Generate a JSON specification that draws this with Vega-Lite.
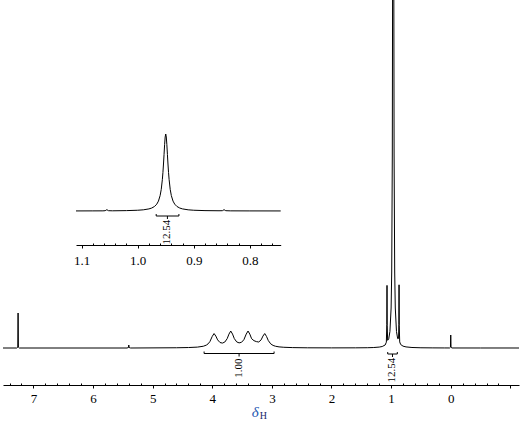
{
  "$schema": "https://vega.github.io/schema/vega-lite/v6.json",
  "width": 516,
  "height": 385,
  "autosize": "none",
  "padding": {"left": 3, "top": 0, "right": 6, "bottom": 39},
  "background": "white",
  "config": {
    "view": {"stroke": null},
    "axis": {
      "grid": false,
      "title": null,
      "domainColor": "black",
      "tickColor": "black",
      "labelColor": "black",
      "labelFont": "Times New Roman",
      "labelFontSize": 13,
      "domainWidth": 1,
      "tickWidth": 1,
      "labelFlush": false,
      "labelOverlap": false
    }
  },
  "datasets": {
    "main": [
      {"ppm": 7.51, "i": 0}, {"ppm": 7.28, "i": 0}, {"ppm": 7.262, "i": 0.8}, {"ppm": 7.257, "i": 35}, {"ppm": 7.252, "i": 0.8}, {"ppm": 7.235, "i": 0},
      {"ppm": 5.43, "i": 0}, {"ppm": 5.405, "i": 0.5}, {"ppm": 5.4, "i": 3}, {"ppm": 5.395, "i": 0.5}, {"ppm": 5.37, "i": 0},
      {"ppm": 4.6, "i": 0.25}, {"ppm": 4.4, "i": 0.46}, {"ppm": 4.25, "i": 0.88}, {"ppm": 4.15, "i": 1.76}, {"ppm": 4.1, "i": 2.87}, {"ppm": 4.07, "i": 4.14}, {"ppm": 4.04, "i": 6.36}, {"ppm": 4.0, "i": 11.6},
      {"ppm": 3.97, "i": 14.45}, {"ppm": 3.94, "i": 11.93}, {"ppm": 3.91, "i": 8.13}, {"ppm": 3.87, "i": 5.47}, {"ppm": 3.83, "i": 4.92}, {"ppm": 3.79, "i": 5.95}, {"ppm": 3.75, "i": 9.31}, {"ppm": 3.72, "i": 13.88},
      {"ppm": 3.69, "i": 16.98}, {"ppm": 3.66, "i": 13.93}, {"ppm": 3.63, "i": 9.38}, {"ppm": 3.59, "i": 6.08}, {"ppm": 3.55, "i": 5.11}, {"ppm": 3.51, "i": 5.68}, {"ppm": 3.47, "i": 8.27}, {"ppm": 3.43, "i": 13.93},
      {"ppm": 3.4, "i": 16.98}, {"ppm": 3.37, "i": 13.88}, {"ppm": 3.34, "i": 9.31}, {"ppm": 3.3, "i": 7.3}, {"ppm": 3.26, "i": 6.4}, {"ppm": 3.22, "i": 6.0}, {"ppm": 3.18, "i": 8.13}, {"ppm": 3.15, "i": 11.93},
      {"ppm": 3.12, "i": 14.45}, {"ppm": 3.09, "i": 11.6}, {"ppm": 3.06, "i": 7.43}, {"ppm": 3.02, "i": 4.14}, {"ppm": 2.98, "i": 2.58}, {"ppm": 2.94, "i": 1.76}, {"ppm": 2.88, "i": 1.12}, {"ppm": 2.8, "i": 0.72}, {"ppm": 2.65, "i": 0.4}, {"ppm": 2.4, "i": 0.2},
      {"ppm": 2.0, "i": 0.12}, {"ppm": 1.6, "i": 0.16}, {"ppm": 1.4, "i": 0.27}, {"ppm": 1.3, "i": 0.45}, {"ppm": 1.2, "i": 0.91}, {"ppm": 1.15, "i": 1.47}, {"ppm": 1.1, "i": 3.0}, {"ppm": 1.08, "i": 5.8},
      {"ppm": 1.072, "i": 23.4}, {"ppm": 1.069, "i": 62.6}, {"ppm": 1.066, "i": 22.7}, {"ppm": 1.058, "i": 7.7}, {"ppm": 1.04, "i": 9.2}, {"ppm": 1.02, "i": 16.5}, {"ppm": 1.0, "i": 40}, {"ppm": 0.99, "i": 76},
      {"ppm": 0.98, "i": 193}, {"ppm": 0.975, "i": 370}, {"ppm": 0.97, "i": 826}, {"ppm": 0.965, "i": 1400}, {"ppm": 0.96, "i": 826}, {"ppm": 0.955, "i": 370}, {"ppm": 0.95, "i": 193}, {"ppm": 0.94, "i": 76},
      {"ppm": 0.93, "i": 40}, {"ppm": 0.91, "i": 16.5}, {"ppm": 0.89, "i": 9.3}, {"ppm": 0.875, "i": 9.6}, {"ppm": 0.87, "i": 23.4}, {"ppm": 0.867, "i": 63.2}, {"ppm": 0.864, "i": 22.7}, {"ppm": 0.856, "i": 6.1},
      {"ppm": 0.84, "i": 3.5}, {"ppm": 0.8, "i": 1.85}, {"ppm": 0.75, "i": 1.09}, {"ppm": 0.65, "i": 0.51}, {"ppm": 0.5, "i": 0.23}, {"ppm": 0.3, "i": 0.11}, {"ppm": 0.1, "i": 0.05},
      {"ppm": 0.02, "i": 0.04}, {"ppm": 0.005, "i": 0.8}, {"ppm": 0.0, "i": 13}, {"ppm": -0.005, "i": 0.8}, {"ppm": -0.02, "i": 0.03}, {"ppm": -0.5, "i": 0.01}, {"ppm": -1.145, "i": 0}
    ],
    "inset": [
      {"ppm": 1.11, "i": 0.07}, {"ppm": 1.08, "i": 0.11}, {"ppm": 1.062, "i": 0.15}, {"ppm": 1.058, "i": 0.3}, {"ppm": 1.055, "i": 1.3}, {"ppm": 1.052, "i": 0.3}, {"ppm": 1.045, "i": 0.2},
      {"ppm": 1.02, "i": 0.39}, {"ppm": 1.0, "i": 0.76}, {"ppm": 0.99, "i": 1.18}, {"ppm": 0.98, "i": 2.08}, {"ppm": 0.975, "i": 2.96}, {"ppm": 0.97, "i": 4.53}, {"ppm": 0.966, "i": 6.85},
      {"ppm": 0.963, "i": 9.9}, {"ppm": 0.96, "i": 15.4}, {"ppm": 0.958, "i": 21.6}, {"ppm": 0.956, "i": 31.6}, {"ppm": 0.955, "i": 38.5}, {"ppm": 0.954, "i": 47}, {"ppm": 0.953, "i": 56.6},
      {"ppm": 0.952, "i": 66.4}, {"ppm": 0.951, "i": 74}, {"ppm": 0.95, "i": 77}, {"ppm": 0.949, "i": 74}, {"ppm": 0.948, "i": 66.4}, {"ppm": 0.947, "i": 56.6}, {"ppm": 0.946, "i": 47},
      {"ppm": 0.945, "i": 38.5}, {"ppm": 0.944, "i": 31.6}, {"ppm": 0.942, "i": 21.6}, {"ppm": 0.94, "i": 15.4}, {"ppm": 0.937, "i": 9.9}, {"ppm": 0.934, "i": 6.85}, {"ppm": 0.93, "i": 4.53},
      {"ppm": 0.925, "i": 2.96}, {"ppm": 0.92, "i": 2.08}, {"ppm": 0.91, "i": 1.18}, {"ppm": 0.9, "i": 0.76}, {"ppm": 0.88, "i": 0.39}, {"ppm": 0.855, "i": 0.25}, {"ppm": 0.849, "i": 0.3},
      {"ppm": 0.846, "i": 1.3}, {"ppm": 0.843, "i": 0.3}, {"ppm": 0.835, "i": 0.15}, {"ppm": 0.8, "i": 0.09}, {"ppm": 0.745, "i": 0.05}
    ],
    "brkMain": [
      {"ppm": 4.137, "ppm2": 2.963, "i": -5.5, "i2": -5.5},
      {"ppm": 4.137, "ppm2": 4.137, "i": -5.5, "i2": -3.5},
      {"ppm": 2.963, "ppm2": 2.963, "i": -5.5, "i2": -3.5},
      {"ppm": 3.55, "ppm2": 3.55, "i": -5.5, "i2": -8.5},
      {"ppm": 1.057, "ppm2": 0.896, "i": -6, "i2": -6},
      {"ppm": 1.057, "ppm2": 1.057, "i": -6, "i2": -4},
      {"ppm": 0.896, "ppm2": 0.896, "i": -6, "i2": -4},
      {"ppm": 0.977, "ppm2": 0.977, "i": -6, "i2": -9}
    ],
    "brkInset": [
      {"ppm": 0.967, "ppm2": 0.9265, "i": -5, "i2": -5},
      {"ppm": 0.967, "ppm2": 0.967, "i": -5, "i2": -3},
      {"ppm": 0.9265, "ppm2": 0.9265, "i": -5, "i2": -3},
      {"ppm": 0.947, "ppm2": 0.947, "i": -5, "i2": -8}
    ],
    "intMain": [
      {"ppm": 3.55, "i": -20, "txt": "1.00"},
      {"ppm": 0.977, "i": -22, "txt": "12.54"}
    ],
    "intInset": [
      {"ppm": 0.947, "i": -21, "txt": "12.54"}
    ],
    "titleDelta": [{"ppm": 3.28, "i": -69, "txt": "δ"}],
    "titleSub": [{"ppm": 3.145, "i": -71, "txt": "H"}],
    "mainEnds": [{"ppm": 7.5}, {"ppm": -1.1}],
    "insetEnds": [{"ppm": 1.1}, {"ppm": 0.75}]
  },
  "layer": [
    {
      "encoding": {
        "x": {
          "field": "ppm", "type": "quantitative",
          "scale": {"domain": [-1.145, 7.51], "reverse": true, "nice": false, "zero": false},
          "axis": {
            "orient": "bottom",
            "values": [7, 6, 5, 4, 3, 2, 1, 0, -1],
            "format": "d",
            "labelExpr": "datum.value < 0 ? '' : datum.label",
            "tickSize": 3,
            "labelPadding": 4
          }
        },
        "y": {
          "field": "i", "type": "quantitative",
          "scale": {"domain": [-37, 348], "nice": false, "zero": false},
          "axis": null
        }
      },
      "layer": [
        {
          "data": {"name": "main"},
          "mark": {"type": "line", "color": "black", "strokeWidth": 1, "clip": true, "interpolate": "linear"}
        },
        {
          "data": {"name": "brkMain"},
          "mark": {"type": "rule", "color": "black", "strokeWidth": 1},
          "encoding": {"x2": {"field": "ppm2"}, "y2": {"field": "i2"}}
        },
        {
          "data": {"name": "intMain"},
          "mark": {"type": "text", "angle": 270, "align": "center", "baseline": "middle", "font": "Times New Roman", "fontSize": 11, "color": "black"},
          "encoding": {"text": {"field": "txt"}}
        },
        {
          "data": {"name": "titleDelta"},
          "mark": {"type": "text", "align": "center", "baseline": "alphabetic", "font": "Times New Roman", "fontSize": 15, "fontStyle": "italic", "color": "#2356b0"},
          "encoding": {"text": {"field": "txt"}}
        },
        {
          "data": {"name": "titleSub"},
          "mark": {"type": "text", "align": "center", "baseline": "alphabetic", "font": "Times New Roman", "fontSize": 10, "color": "#1a2a6c"},
          "encoding": {"text": {"field": "txt"}}
        }
      ]
    },
    {
      "data": {"name": "mainEnds"},
      "mark": {"type": "point", "opacity": 0},
      "encoding": {
        "x": {
          "field": "ppm", "type": "quantitative",
          "scale": {"domain": [-1.145, 7.51], "reverse": true, "nice": false, "zero": false},
          "axis": {
            "orient": "bottom",
            "values": [7.4, 7.2, 6.8, 6.6, 6.4, 6.2, 5.8, 5.6, 5.4, 5.2, 4.8, 4.6, 4.4, 4.2, 3.8, 3.6, 3.4, 3.2, 2.8, 2.6, 2.4, 2.2, 1.8, 1.6, 1.4, 1.2, 0.8, 0.6, 0.4, 0.2, -0.2, -0.4, -0.6, -0.8],
            "tickSize": -2,
            "labels": false,
            "domain": false
          }
        }
      }
    },
    {
      "encoding": {
        "x": {
          "field": "ppm", "type": "quantitative",
          "scale": {"domain": [0.745, 1.11], "range": [277.7, 73], "nice": false, "zero": false},
          "axis": {
            "orient": "bottom",
            "offset": -140,
            "values": [1.1, 1.0, 0.9, 0.8],
            "format": ".1f",
            "tickSize": 3,
            "labelPadding": 6
          }
        },
        "y": {
          "field": "i", "type": "quantitative",
          "scale": {"domain": [0, 77], "range": [211, 134], "nice": false, "zero": false},
          "axis": null
        }
      },
      "layer": [
        {
          "data": {"name": "inset"},
          "mark": {"type": "line", "color": "black", "strokeWidth": 1}
        },
        {
          "data": {"name": "brkInset"},
          "mark": {"type": "rule", "color": "black", "strokeWidth": 1},
          "encoding": {"x2": {"field": "ppm2"}, "y2": {"field": "i2"}}
        },
        {
          "data": {"name": "intInset"},
          "mark": {"type": "text", "angle": 270, "align": "center", "baseline": "middle", "font": "Times New Roman", "fontSize": 11, "color": "black"},
          "encoding": {"text": {"field": "txt"}}
        }
      ]
    },
    {
      "data": {"name": "insetEnds"},
      "mark": {"type": "point", "opacity": 0},
      "encoding": {
        "x": {
          "field": "ppm", "type": "quantitative",
          "scale": {"domain": [0.745, 1.11], "range": [277.7, 73], "nice": false, "zero": false},
          "axis": {
            "orient": "bottom",
            "offset": -140,
            "values": [1.08, 1.06, 1.04, 1.02, 0.98, 0.96, 0.94, 0.92, 0.88, 0.86, 0.84, 0.82, 0.78, 0.76],
            "tickSize": -2,
            "labels": false,
            "domain": false
          }
        }
      }
    }
  ],
  "resolve": {
    "scale": {"x": "independent", "y": "independent"},
    "axis": {"x": "independent", "y": "independent"}
  }
}
